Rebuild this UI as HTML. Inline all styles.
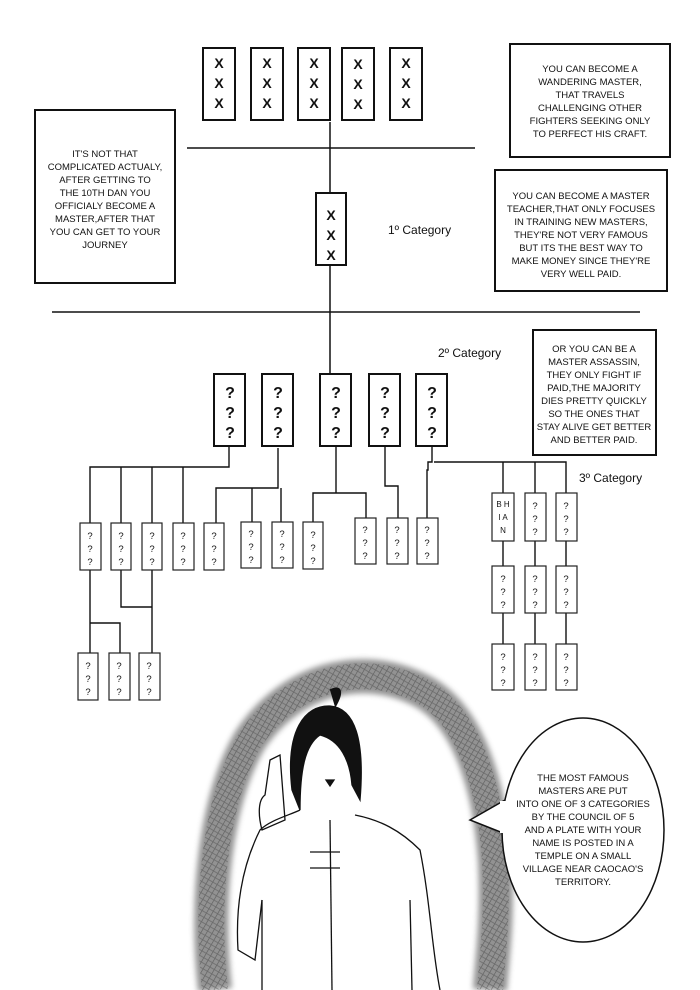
<!DOCTYPE html>
<html><head><meta charset="utf-8"><style>
html,body{margin:0;padding:0;background:#fff}
svg{display:block}
.t{font-family:"Liberation Sans",sans-serif;font-size:9.5px;text-anchor:middle;fill:#111}
.q{font-family:"Liberation Sans",sans-serif;font-weight:bold;text-anchor:middle;fill:#111}
</style></head><body>
<svg width="700" height="990" viewBox="0 0 700 990" xmlns="http://www.w3.org/2000/svg">
<defs>
<pattern id="h" width="5" height="5" patternUnits="userSpaceOnUse" patternTransform="rotate(30)">
<line x1="0" y1="0" x2="0" y2="5" stroke="#222" stroke-width="1.2"/>
<line x1="0" y1="2.5" x2="5" y2="2.5" stroke="#444" stroke-width="0.8"/>
</pattern>
<filter id="b"><feGaussianBlur stdDeviation="3"/></filter>
</defs>
<g stroke="#111" fill="none" stroke-width="2">
<rect x="203" y="48" width="32" height="72"/><rect x="251" y="48" width="32" height="72"/>
<rect x="298" y="48" width="32" height="72"/><rect x="342" y="48" width="32" height="72"/>
<rect x="390" y="48" width="32" height="72"/>
<line x1="187" y1="148" x2="475" y2="148" stroke-width="1.5"/>
<line x1="330" y1="122" x2="330" y2="193" stroke-width="1.5"/>
<rect x="316" y="193" width="30" height="72"/>
<line x1="330" y1="265" x2="330" y2="374" stroke-width="1.5"/>
<line x1="52" y1="312" x2="640" y2="312" stroke-width="1.5"/>
<rect x="35" y="110" width="140" height="173"/>
<rect x="510" y="44" width="160" height="113"/>
<rect x="495" y="170" width="172" height="121"/>
<rect x="533" y="330" width="123" height="125"/>
<rect x="214" y="374" width="31" height="72"/><rect x="262" y="374" width="31" height="72"/>
<rect x="320" y="374" width="31" height="72"/><rect x="369" y="374" width="31" height="72"/>
<rect x="416" y="374" width="31" height="72"/>
</g>
<g stroke="#111" fill="none" stroke-width="1.4">
<path d="M229 446V467H90V524M121 467V524M152 467V524M183 467V524"/>
<path d="M278 448V488H216V524M252 488V522M281 488V522"/>
<path d="M336 446V493H313V522M336 493H366V518"/>
<path d="M385 446V486H398V518"/>
<path d="M432 446V462H428V470H427V518M434 462H566V493M503 462V493M535 462V493"/>
<path d="M90 570V653M90 623H120V653M121 570V607H152M152 570V653"/>
<path d="M503 541V566M503 613V644M535 541V566M535 613V644M566 541V566M566 613V644"/>
</g>
<g stroke="#222" fill="#fff" stroke-width="1.2">
<rect x="80" y="523" width="21" height="47"/><rect x="111" y="523" width="20" height="47"/>
<rect x="142" y="523" width="20" height="47"/><rect x="173" y="523" width="21" height="47"/>
<rect x="204" y="523" width="20" height="47"/><rect x="241" y="522" width="20" height="46"/>
<rect x="272" y="522" width="21" height="46"/><rect x="303" y="522" width="20" height="47"/>
<rect x="355" y="518" width="21" height="46"/><rect x="387" y="518" width="21" height="46"/>
<rect x="417" y="518" width="21" height="46"/>
<rect x="492" y="493" width="22" height="48"/><rect x="525" y="493" width="21" height="48"/><rect x="556" y="493" width="21" height="48"/>
<rect x="492" y="566" width="22" height="47"/><rect x="525" y="566" width="21" height="47"/><rect x="556" y="566" width="21" height="47"/>
<rect x="492" y="644" width="22" height="46"/><rect x="525" y="644" width="21" height="46"/><rect x="556" y="644" width="21" height="46"/>
<rect x="78" y="653" width="20" height="47"/><rect x="109" y="653" width="21" height="47"/><rect x="139" y="653" width="21" height="47"/>
</g>
<g class="q" font-size="14">
<text x="219" y="68">X</text><text x="219" y="88">X</text><text x="219" y="108">X</text>
<text x="267" y="68">X</text><text x="267" y="88">X</text><text x="267" y="108">X</text>
<text x="314" y="68">X</text><text x="314" y="88">X</text><text x="314" y="108">X</text>
<text x="358" y="69">X</text><text x="358" y="89">X</text><text x="358" y="109">X</text>
<text x="406" y="68">X</text><text x="406" y="88">X</text><text x="406" y="108">X</text>
<text x="331" y="220">X</text><text x="331" y="240">X</text><text x="331" y="260">X</text>
</g>
<g class="q" font-size="16">
<text x="230" y="398">?</text><text x="230" y="418">?</text><text x="230" y="438">?</text>
<text x="278" y="398">?</text><text x="278" y="418">?</text><text x="278" y="438">?</text>
<text x="336" y="398">?</text><text x="336" y="418">?</text><text x="336" y="438">?</text>
<text x="385" y="398">?</text><text x="385" y="418">?</text><text x="385" y="438">?</text>
<text x="432" y="398">?</text><text x="432" y="418">?</text><text x="432" y="438">?</text>
</g>
<g class="t" font-size="10">
<text x="90" y="539">?</text><text x="90" y="552">?</text><text x="90" y="565">?</text>
<text x="121" y="539">?</text><text x="121" y="552">?</text><text x="121" y="565">?</text>
<text x="152" y="539">?</text><text x="152" y="552">?</text><text x="152" y="565">?</text>
<text x="183" y="539">?</text><text x="183" y="552">?</text><text x="183" y="565">?</text>
<text x="214" y="539">?</text><text x="214" y="552">?</text><text x="214" y="565">?</text>
<text x="251" y="537">?</text><text x="251" y="550">?</text><text x="251" y="563">?</text>
<text x="282" y="537">?</text><text x="282" y="550">?</text><text x="282" y="563">?</text>
<text x="313" y="538">?</text><text x="313" y="551">?</text><text x="313" y="564">?</text>
<text x="365" y="533">?</text><text x="365" y="546">?</text><text x="365" y="559">?</text>
<text x="397" y="533">?</text><text x="397" y="546">?</text><text x="397" y="559">?</text>
<text x="427" y="533">?</text><text x="427" y="546">?</text><text x="427" y="559">?</text>
<text x="503" y="507" font-size="8">B H</text><text x="503" y="520" font-size="8">I A</text><text x="503" y="533" font-size="8">N</text>
<text x="535" y="509">?</text><text x="535" y="522">?</text><text x="535" y="535">?</text>
<text x="566" y="509">?</text><text x="566" y="522">?</text><text x="566" y="535">?</text>
<text x="503" y="582">?</text><text x="503" y="595">?</text><text x="503" y="608">?</text>
<text x="535" y="582">?</text><text x="535" y="595">?</text><text x="535" y="608">?</text>
<text x="566" y="582">?</text><text x="566" y="595">?</text><text x="566" y="608">?</text>
<text x="503" y="660">?</text><text x="503" y="673">?</text><text x="503" y="686">?</text>
<text x="535" y="660">?</text><text x="535" y="673">?</text><text x="535" y="686">?</text>
<text x="566" y="660">?</text><text x="566" y="673">?</text><text x="566" y="686">?</text>
<text x="88" y="669">?</text><text x="88" y="682">?</text><text x="88" y="695">?</text>
<text x="119" y="669">?</text><text x="119" y="682">?</text><text x="119" y="695">?</text>
<text x="149" y="669">?</text><text x="149" y="682">?</text><text x="149" y="695">?</text>
</g>
<g font-family="Liberation Sans,sans-serif" font-size="12" fill="#111">
<text x="388" y="234">1º Category</text>
<text x="438" y="357">2º Category</text>
<text x="579" y="482">3º Category</text>
</g>
<g class="t">
<text x="105" y="157">IT'S NOT THAT</text><text x="105" y="170">COMPLICATED ACTUALY,</text>
<text x="105" y="183">AFTER GETTING TO</text><text x="105" y="196">THE 10TH DAN YOU</text>
<text x="105" y="209">OFFICIALY BECOME A</text><text x="105" y="222">MASTER,AFTER THAT</text>
<text x="105" y="235">YOU CAN GET TO YOUR</text><text x="105" y="248">JOURNEY</text>
<text x="590" y="72">YOU CAN BECOME A</text><text x="590" y="85">WANDERING MASTER,</text>
<text x="590" y="98">THAT TRAVELS</text><text x="590" y="111">CHALLENGING OTHER</text>
<text x="590" y="124">FIGHTERS SEEKING ONLY</text><text x="590" y="137">TO PERFECT HIS CRAFT.</text>
<text x="581" y="199">YOU CAN BECOME A MASTER</text><text x="581" y="212">TEACHER,THAT ONLY FOCUSES</text>
<text x="581" y="225">IN TRAINING NEW MASTERS,</text><text x="581" y="238">THEY'RE NOT VERY FAMOUS</text>
<text x="581" y="251">BUT ITS THE BEST WAY TO</text><text x="581" y="264">MAKE MONEY SINCE THEY'RE</text>
<text x="581" y="277">VERY WELL PAID.</text>
<text x="594" y="352">OR YOU CAN BE A</text><text x="594" y="365">MASTER ASSASSIN,</text>
<text x="594" y="378">THEY ONLY FIGHT IF</text><text x="594" y="391">PAID,THE MAJORITY</text>
<text x="594" y="404">DIES PRETTY QUICKLY</text><text x="594" y="417">SO THE ONES THAT</text>
<text x="594" y="430">STAY ALIVE GET BETTER</text><text x="594" y="443">AND BETTER PAID.</text>
</g>
<path d="M215 990 C205 900 215 800 250 740 C290 680 360 660 420 690 C470 715 490 790 495 860 C498 920 492 960 490 990" fill="none" stroke="#777" stroke-width="34" opacity="0.8" filter="url(#b)"/>
<path d="M215 990 C205 900 215 800 250 740 C290 680 360 660 420 690 C470 715 490 790 495 860 C498 920 492 960 490 990" fill="none" stroke="url(#h)" stroke-width="26" opacity="0.5"/>
<g stroke="#111" fill="none" stroke-width="1.3">
<path d="M292 790 C285 730 305 705 330 706 C355 708 365 740 360 800 L352 785 C350 760 340 740 320 735 C305 745 300 770 300 810Z" fill="#111"/>
<path d="M330 690 C340 685 345 690 335 707" fill="#111"/>
<path d="M270 760 L280 755 L285 820 L262 830 C258 815 258 800 265 795Z" fill="#fff"/>
<path d="M300 810 C290 815 270 820 260 830 C245 860 235 900 238 950 L255 960 L262 900"/>
<path d="M355 815 C380 820 400 830 420 850 C430 900 432 950 440 990"/>
<path d="M262 900 L262 990"/><path d="M410 900 L412 990"/>
<path d="M330 820 L332 990"/><path d="M310 852 H340 M310 868 H340"/>
<path d="M326 780 L334 780 L330 786Z" fill="#111"/>
</g>
<path d="M505 800 L470 820 L508 835" fill="#fff" stroke="#111" stroke-width="1.5"/>
<ellipse cx="583" cy="830" rx="81" ry="112" fill="#fff" stroke="#111" stroke-width="1.5"/>
<rect x="500" y="801" width="10" height="32" fill="#fff"/>
<g class="t">
<text x="583" y="781">THE MOST FAMOUS</text><text x="583" y="794">MASTERS ARE PUT</text>
<text x="583" y="807">INTO ONE OF 3 CATEGORIES</text><text x="583" y="820">BY THE COUNCIL OF 5</text>
<text x="583" y="833">AND A PLATE WITH YOUR</text><text x="583" y="846">NAME IS POSTED IN A</text>
<text x="583" y="859">TEMPLE ON A SMALL</text><text x="583" y="872">VILLAGE NEAR CAOCAO'S</text>
<text x="583" y="885">TERRITORY.</text>
</g>
</svg>
</body></html>
